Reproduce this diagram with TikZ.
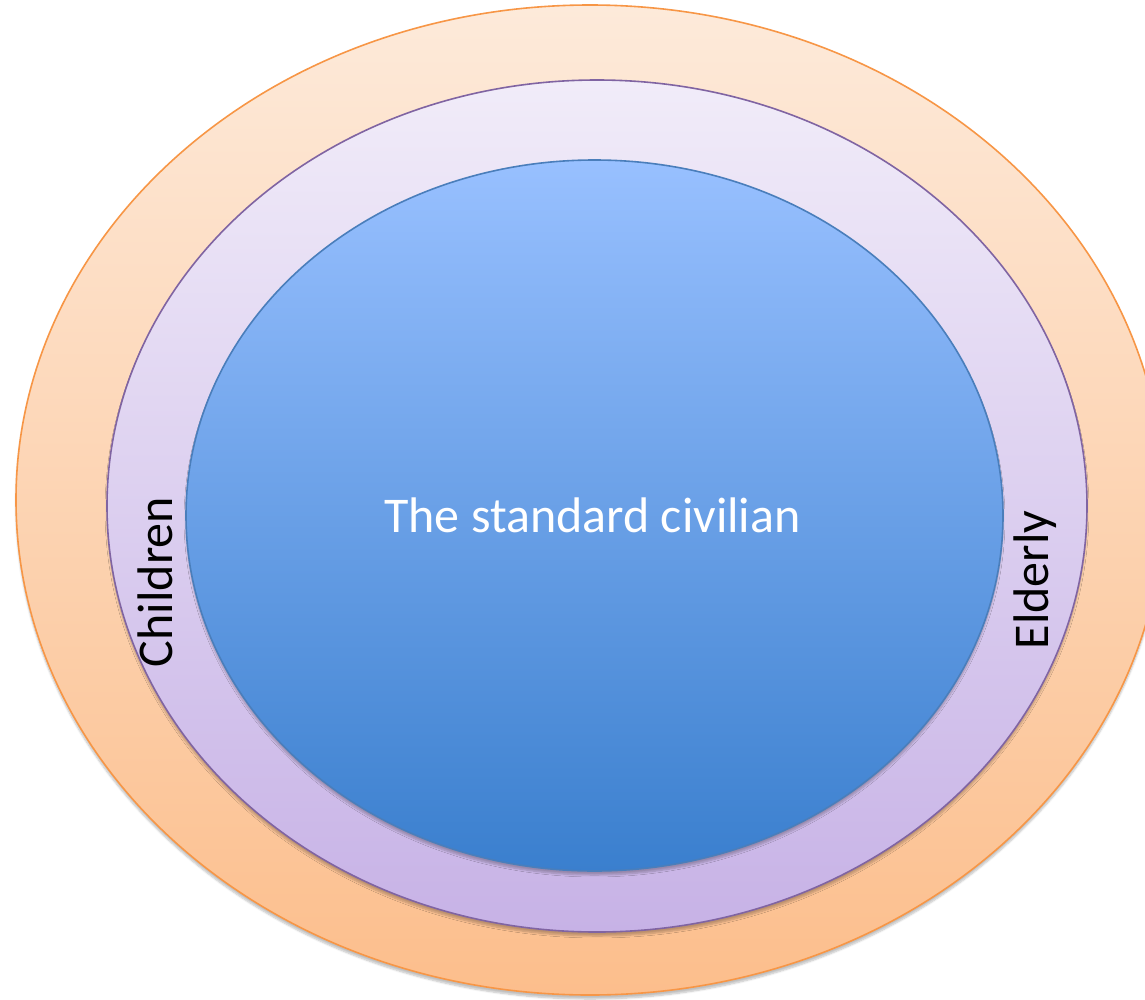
\documentclass[tikz,border=0pt]{standalone}
\usepackage{fontspec}
\setmainfont{Carlito}
\usetikzlibrary{shapes.geometric,shadows.blur}
\definecolor{outerTop}{RGB}{253,234,218}
\definecolor{outerBot}{RGB}{252,190,140}
\definecolor{outerLine}{RGB}{247,150,70}
\definecolor{midTop}{RGB}{241,236,249}
\definecolor{midBot}{RGB}{199,178,230}
\definecolor{midLine}{RGB}{128,100,162}
\definecolor{inTop}{RGB}{152,192,255}
\definecolor{inBot}{RGB}{58,127,206}
\definecolor{inLine}{RGB}{74,126,187}
\tikzset{
  ring/.style={ellipse, inner sep=0pt, line width=1.6pt,
    blur shadow={shadow xshift=0pt, shadow yshift=-4pt, shadow blur steps=6, shadow opacity=25}},
  lbl/.style={font=\fontsize{50}{60}\selectfont, inner sep=0pt}
}
\begin{document}
\begin{tikzpicture}[x=1pt,y=-1pt]
\useasboundingbox (0,0) rectangle (1145,999);
\clip (0,0) rectangle (1145,999);
\node[ring, draw=outerLine, top color=outerTop, bottom color=outerBot,
  minimum width=1148pt, minimum height=990pt] (outer) at (590,500) {};
\node[ring, draw=midLine, top color=midTop, bottom color=midBot,
  minimum width=980pt, minimum height=852pt] (middle) at (597,506) {};
\node[ring, draw=inLine, top color=inTop, bottom color=inBot,
  minimum width=817pt, minimum height=711pt] (inner) at (594.5,515.5) {};
\node[lbl, text=white, anchor=base] (civ) at (592.5,532) {The standard civilian};
\node[lbl, rotate=90, anchor=base] (child) at (172,582) {Children};
\node[lbl, rotate=90, anchor=base] (eld) at (1048,580) {Elderly};
\end{tikzpicture}
\end{document}
